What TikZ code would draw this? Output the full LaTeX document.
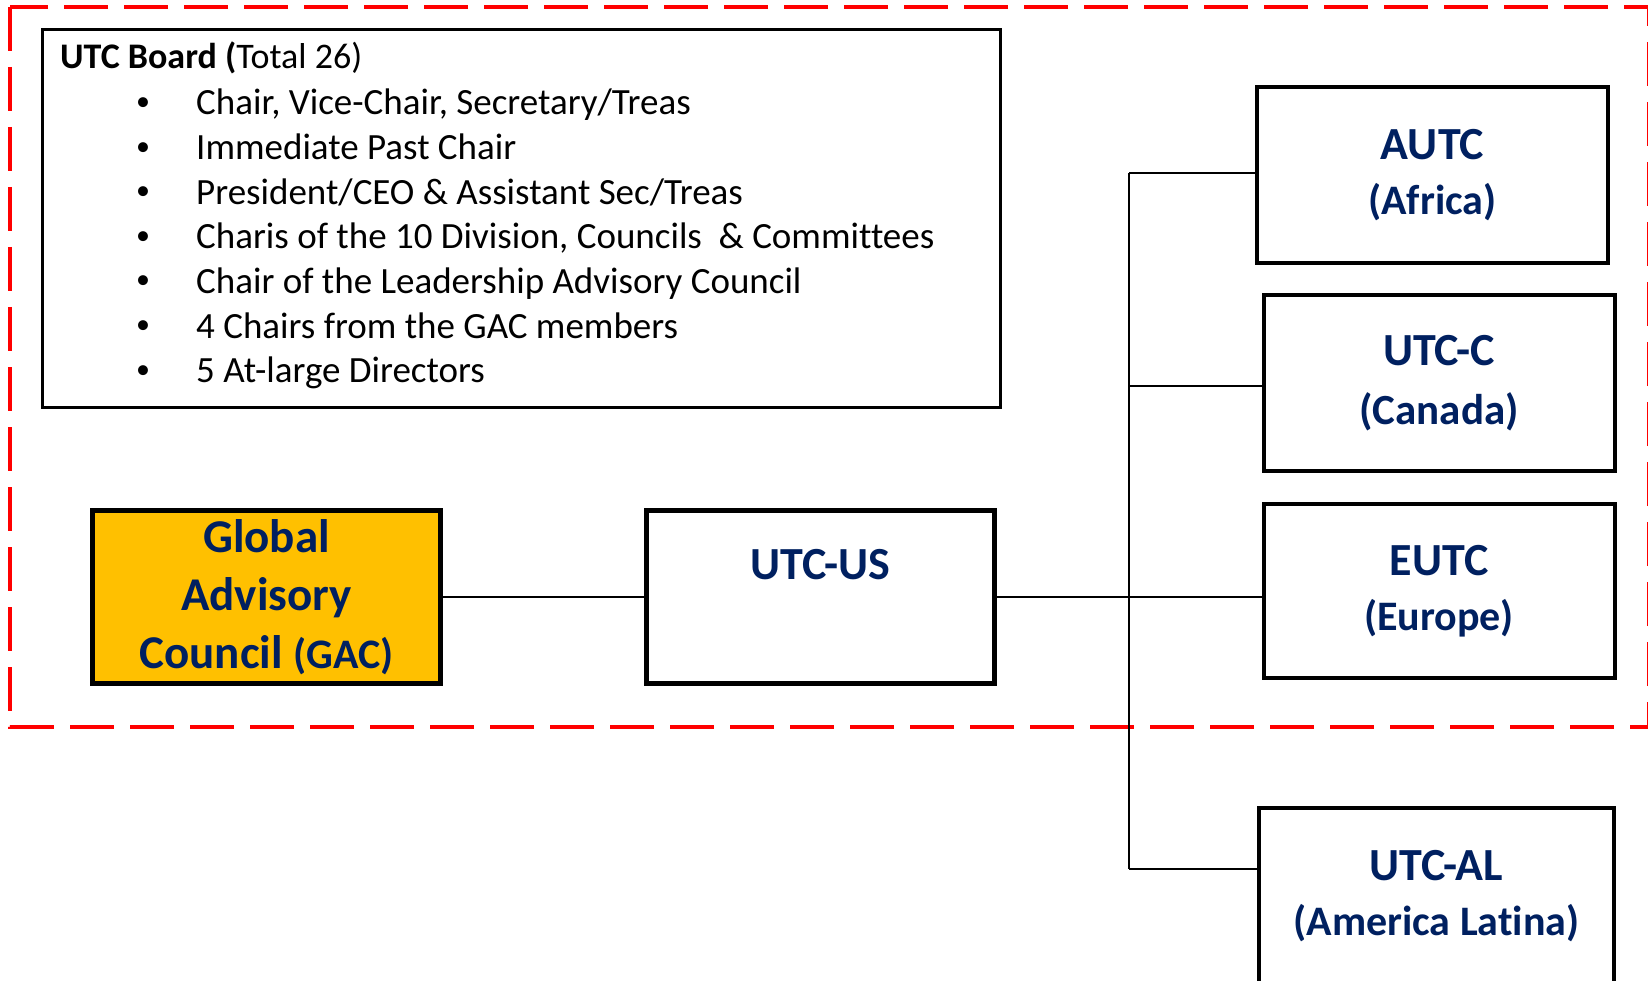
\documentclass[tikz,border=0pt]{standalone}
\usepackage{fontspec}
\setmainfont{Carlito}[Ligatures=NoCommon]
\definecolor{navy}{HTML}{002060}
\definecolor{gacgold}{HTML}{FFC000}
\newcommand{\subline}[1]{{\fontsize{42}{55}\selectfont #1}}

\begin{document}
\begin{tikzpicture}[x=1pt,y=-1pt,
  region/.style={draw,line width=4pt,minimum width=351pt,minimum height=176pt,inner sep=0pt,
    align=center,text=navy,font=\bfseries\fontsize{46}{55}\selectfont},
  link/.style={line width=2.5pt},
  item/.style={anchor=base west,inner sep=0pt,font=\fontsize{37}{44}\selectfont}]
\useasboundingbox (0,0) rectangle (1648,981);

% Board area
\draw[red,line width=4pt,dash pattern=on 44pt off 16pt] (10,7) rectangle (1649,727);

% UTC Board members
\node[draw,line width=3pt,minimum width=958pt,minimum height=378pt,inner sep=0pt] (board) at (521.5,218.5) {};
\node[item,font=\fontsize{36}{44}\selectfont] (boardtitle) at (60,69) {\textbf{UTC Board (}Total 26)};
\foreach \txt [count=\i] in {{Chair, Vice-Chair, Secretary/Treas},
    Immediate Past Chair,
    President/CEO \& Assistant Sec/Treas,
    {Charis of the 10 Division, Councils~ \& Committees},
    Chair of the Leadership Advisory Council,
    4 Chairs from the GAC members,
    5 At-large Directors}{
  \node[inner sep=0pt,font=\fontsize{28}{44}\selectfont] (dot\i) at (143,{115+44.6*(\i-1)-11}) {\textbullet};
  \node[item] (item\i) at (196,{115+44.6*(\i-1)}) {\txt};
}

% GAC and UTC-US
\node[region,fill=gacgold,line width=5pt,minimum width=348pt,minimum height=173pt,
  font=\bfseries\fontsize{47}{58}\selectfont] (gac) at (266.5,597)
  {Global\\Advisory\\Council {\fontsize{42}{58}\selectfont(GAC)}};
\node[region,line width=5pt,minimum width=348pt,minimum height=173pt] (us) at (820.5,597) {};
\node[text=navy,font=\bfseries\fontsize{46}{55}\selectfont] (ustext) at (820.5,565) {UTC-US};

% Regional councils
\node[region] (autc) at (1432.5,175) {AUTC\\\subline{(Africa)}};
\node[region,font=\bfseries\fontsize{46}{59}\selectfont] (utcc) at (1439,383) {UTC-C\\{\fontsize{43}{59}\selectfont(Canada)}};
\node[region,minimum height=174pt] (eutc) at (1439,591) {EUTC\\\subline{(Europe)}};
\node[region,minimum width=355pt] (al) at (1436.5,896) {UTC-AL\\\subline{(America Latina)}};

% Connectors
\coordinate (jautc) at (1129,173);
\coordinate (jutcc) at (1129,386);
\coordinate (jal) at (1129,869);
\draw[link] (gac.east) -- (us.west);
\draw[link] (jautc) -- (jal);
\draw[link] (jautc) -- (jautc -| autc.west);
\draw[link] (jutcc) -- (jutcc -| utcc.west);
\draw[link] (us.east) -- (us.east -| eutc.west);
\draw[link] (jal) -- (jal -| al.west);
\end{tikzpicture}
\end{document}
